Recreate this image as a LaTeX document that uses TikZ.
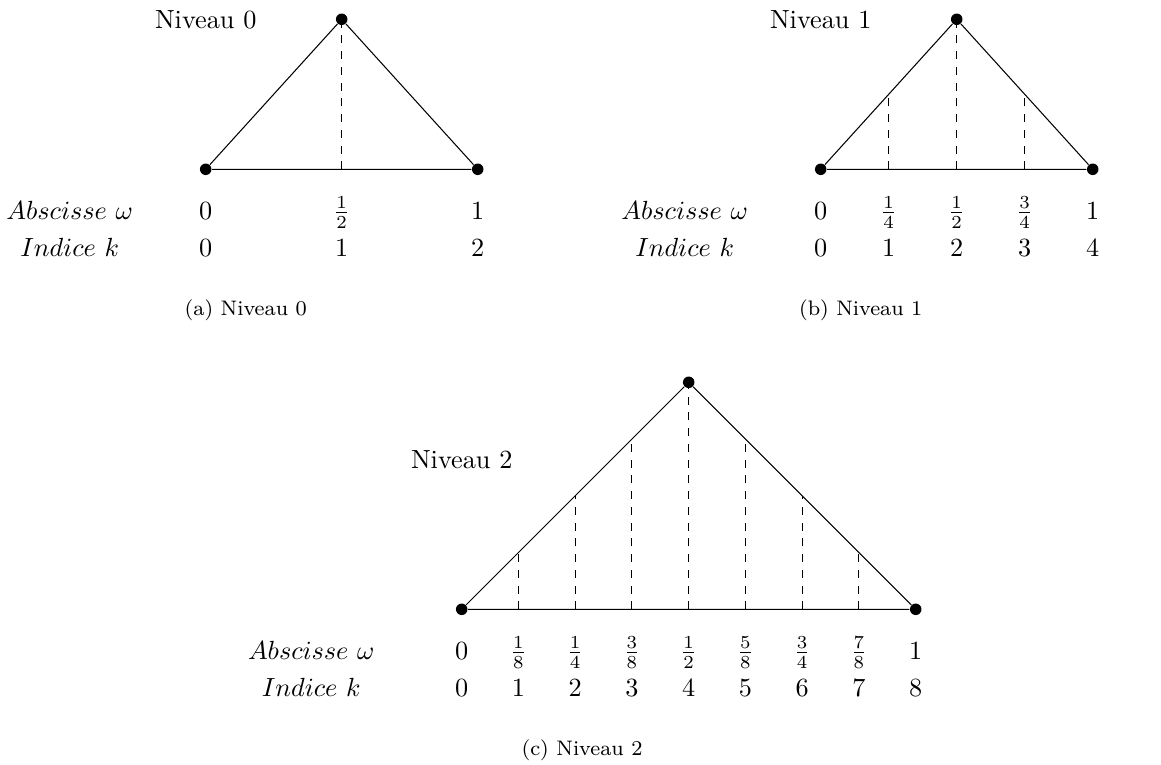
\documentclass[tikz,border=0pt]{standalone}
\usepackage{amsmath}
\usepackage{amssymb}

\begin{document}
\begin{tikzpicture}[x=0.381pt,y=0.381pt,
    sommet/.style={circle,fill,inner sep=0pt,minimum size=4.4pt},
    legende/.style={font=\footnotesize}]
  \useasboundingbox (0,0) rectangle (1161,765);
  % niveau 0
  \begin{scope}[shift={(205.7,595.7)}]
    \node[sommet] (g0) at (0,0) {};
    \node[sommet] (d0) at (272,0) {};
    \node[sommet] (s0) at (136,150) {};
    \draw (g0) -- (s0) -- (d0) -- (g0);
    \draw[dashed] (136,0) -- (136,150);
    \node (titre0) at (0,149.3) {Niveau 0};
    \node[anchor=base] (abs0) at (-136,-50) {$Abscisse~\omega$};
    \node[anchor=base] (ind0) at (-136,-87) {$Indice~k$};
    \node[anchor=base] (w00) at (0,-50) {$0$};
    \node[anchor=base] (w01) at (136,-50) {$\frac{1}{2}$};
    \node[anchor=base] (w02) at (272,-50) {$1$};
    \node[anchor=base] (k00) at (0,-87) {$0$};
    \node[anchor=base] (k01) at (136,-87) {$1$};
    \node[anchor=base] (k02) at (272,-87) {$2$};
    \node[legende] (leg0) at (40,-140.7) {(a) Niveau 0};
  \end{scope}
  % niveau 1
  \begin{scope}[shift={(820.7,595.7)}]
    \node[sommet] (g1) at (0,0) {};
    \node[sommet] (d1) at (272,0) {};
    \node[sommet] (s1) at (136,150) {};
    \draw (g1) -- (s1) -- (d1) -- (g1);
    \draw[dashed] (68,0) -- (68,75);
    \draw[dashed] (136,0) -- (136,150);
    \draw[dashed] (204,0) -- (204,75);
    \node (titre1) at (0,149.3) {Niveau 1};
    \node[anchor=base] (abs1) at (-136,-50) {$Abscisse~\omega$};
    \node[anchor=base] (ind1) at (-136,-87) {$Indice~k$};
    \node[anchor=base] (w10) at (0,-50) {$0$};
    \node[anchor=base] (w11) at (68,-50) {$\frac{1}{4}$};
    \node[anchor=base] (w12) at (136,-50) {$\frac{1}{2}$};
    \node[anchor=base] (w13) at (204,-50) {$\frac{3}{4}$};
    \node[anchor=base] (w14) at (272,-50) {$1$};
    \node[anchor=base] (k10) at (0,-87) {$0$};
    \node[anchor=base] (k11) at (68,-87) {$1$};
    \node[anchor=base] (k12) at (136,-87) {$2$};
    \node[anchor=base] (k13) at (204,-87) {$3$};
    \node[anchor=base] (k14) at (272,-87) {$4$};
    \node[legende] (leg1) at (40,-140.7) {(b) Niveau 1};
  \end{scope}
  % niveau 2
  \begin{scope}[shift={(461.7,155.7)}]
    \node[sommet] (g2) at (0,0) {};
    \node[sommet] (d2) at (454,0) {};
    \node[sommet] (s2) at (227,227) {};
    \draw (g2) -- (s2) -- (d2) -- (g2);
    \draw[dashed] (56.75,0) -- (56.75,56.75);
    \draw[dashed] (113.5,0) -- (113.5,113.5);
    \draw[dashed] (170.25,0) -- (170.25,170.25);
    \draw[dashed] (227,0) -- (227,227);
    \draw[dashed] (283.75,0) -- (283.75,170.25);
    \draw[dashed] (340.5,0) -- (340.5,113.5);
    \draw[dashed] (397.25,0) -- (397.25,56.75);
    \node (titre2) at (0,149.3) {Niveau 2};
    \node[anchor=base] (abs2) at (-150.4,-50) {$Abscisse~\omega$};
    \node[anchor=base] (ind2) at (-150.4,-87) {$Indice~k$};
    \node[anchor=base] (w20) at (0,-50) {$0$};
    \node[anchor=base] (w21) at (56.75,-50) {$\frac{1}{8}$};
    \node[anchor=base] (w22) at (113.5,-50) {$\frac{1}{4}$};
    \node[anchor=base] (w23) at (170.25,-50) {$\frac{3}{8}$};
    \node[anchor=base] (w24) at (227,-50) {$\frac{1}{2}$};
    \node[anchor=base] (w25) at (283.75,-50) {$\frac{5}{8}$};
    \node[anchor=base] (w26) at (340.5,-50) {$\frac{3}{4}$};
    \node[anchor=base] (w27) at (397.25,-50) {$\frac{7}{8}$};
    \node[anchor=base] (w28) at (454,-50) {$1$};
    \node[anchor=base] (k20) at (0,-87) {$0$};
    \node[anchor=base] (k21) at (56.75,-87) {$1$};
    \node[anchor=base] (k22) at (113.5,-87) {$2$};
    \node[anchor=base] (k23) at (170.25,-87) {$3$};
    \node[anchor=base] (k24) at (227,-87) {$4$};
    \node[anchor=base] (k25) at (283.75,-87) {$5$};
    \node[anchor=base] (k26) at (340.5,-87) {$6$};
    \node[anchor=base] (k27) at (397.25,-87) {$7$};
    \node[anchor=base] (k28) at (454,-87) {$8$};
    \node[legende] (leg2) at (120.3,-140.7) {(c) Niveau 2};
  \end{scope}
\end{tikzpicture}
\end{document}
